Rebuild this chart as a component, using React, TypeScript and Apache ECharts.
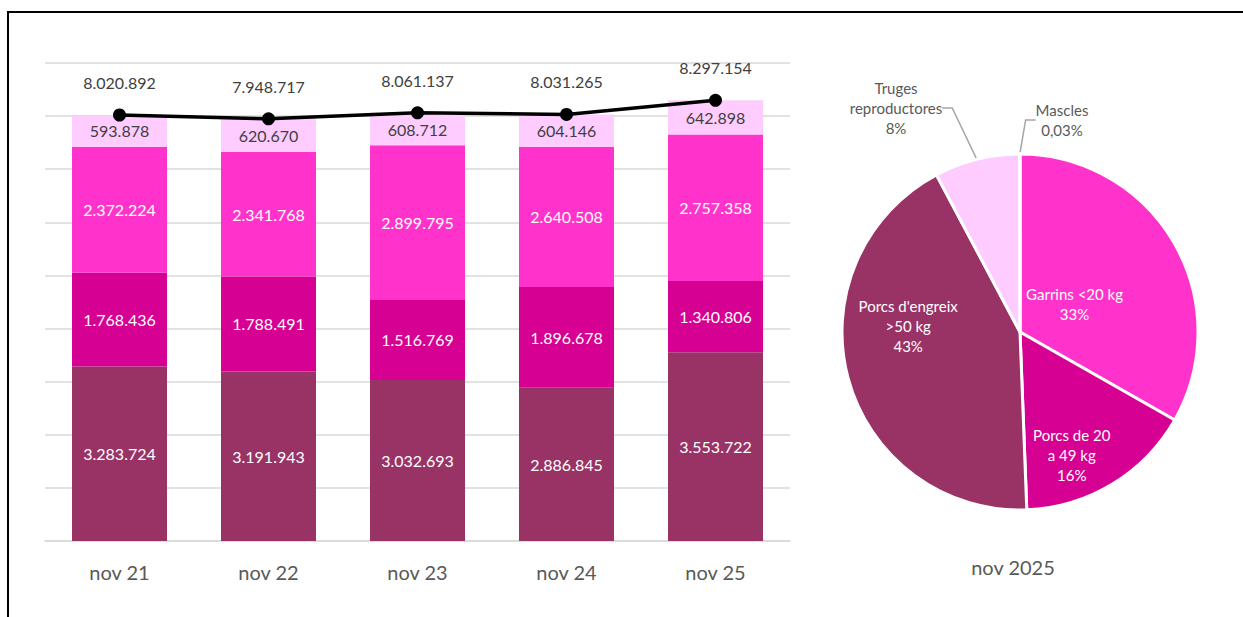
import React, { useEffect, useRef } from "react";
import * as echarts from "echarts";

const categories = ["nov 21", "nov 22", "nov 23", "nov 24", "nov 25"];
const porcsEngreix = [3283724, 3191943, 3032693, 2886845, 3553722];
const porcs20a49 = [1768436, 1788491, 1516769, 1896678, 1340806];
const garrins = [2372224, 2341768, 2899795, 2640508, 2757358];
const truges = [593878, 620670, 608712, 604146, 642898];
const mascles = [2630, 5845, 3168, 3088, 2370];
const totals = [8020892, 7948717, 8061137, 8031265, 8297154];

const pieNames = ["Garrins <20 kg", "Porcs de 20 a 49 kg", "Porcs d'engreix >50 kg", "Truges reproductores", "Mascles"];
const pieLabelNames = ["Garrins <20 kg", "Porcs de 20\na 49 kg", "Porcs d'engreix\n>50 kg", "Truges\nreproductores", "Mascles"];
const pieValues = [2757358, 1340806, 3553722, 642898, 2370];
const pieTitle = "nov 2025";

const C_ENG = "#993366";
const C_20 = "#D60093";
const C_GAR = "#FF33CC";
const C_TRU = "#FFCCFF";
const C_MAS = "#F6C4CF";
const FONT = "Lato, 'Open Sans', sans-serif";

const fmt = (n: number) => String(n).replace(/\B(?=(\d{3})+(?!\d))/g, ".");

export default function App() {
  const ref = useRef<HTMLDivElement>(null);
  useEffect(() => {
    const chart = echarts.init(ref.current!, null, { renderer: "svg" });
    const barLabel = (color: string) => ({
      show: true,
      position: "inside" as const,
      color,
      fontSize: 16,
      fontFamily: FONT,
      formatter: (p: any) => fmt(p.value),
    });
    const pieColors = [C_GAR, C_20, C_ENG, C_TRU, C_MAS];
    const insideShift: Record<number, [number, number]> = {
      0: [-25, 18],
      1: [4, 44],
      2: [-23, -30],
    };
    // label anchors for the outside pie labels, relative to the pie centre
    const outsideOffset: Record<number, [number, number]> = {
      3: [-124, -224],
      4: [42, -212],
    };
    const pieCenter = [1020, 332];
    chart.setOption({
      animation: false,
      textStyle: { fontFamily: FONT },
      grid: { left: 45, right: 453, top: 63, bottom: 76 },
      xAxis: {
        type: "category",
        data: categories,
        axisLine: { lineStyle: { color: "#D9D9D9", width: 1.5 } },
        axisTick: { show: false },
        axisLabel: { fontSize: 20, color: "#595959", margin: 21, fontFamily: FONT },
      },
      yAxis: {
        type: "value",
        min: 0,
        max: 9000000,
        interval: 1000000,
        axisLabel: { show: false },
        axisLine: { show: false },
        axisTick: { show: false },
        splitLine: { lineStyle: { color: "#D9D9D9", width: 1.5 } },
      },
      series: [
        { type: "bar", stack: "t", barWidth: 95, data: porcsEngreix, itemStyle: { color: C_ENG }, label: barLabel("#FFFFFF") },
        { type: "bar", stack: "t", data: porcs20a49, itemStyle: { color: C_20 }, label: barLabel("#FFFFFF") },
        { type: "bar", stack: "t", data: garrins, itemStyle: { color: C_GAR }, label: barLabel("#FFFFFF") },
        { type: "bar", stack: "t", data: truges, itemStyle: { color: C_TRU }, label: barLabel("#404040") },
        { type: "bar", stack: "t", data: mascles, itemStyle: { color: C_MAS } },
        {
          type: "line",
          data: totals,
          z: 10,
          symbol: "circle",
          symbolSize: 13,
          lineStyle: { color: "#000000", width: 3.5 },
          itemStyle: { color: "#000000" },
          label: {
            show: true,
            position: "top",
            distance: 18,
            fontSize: 16,
            color: "#404040",
            fontFamily: FONT,
            formatter: (p: any) => fmt(p.value),
          },
        },
        {
          type: "pie",
          center: pieCenter,
          radius: 178,
          startAngle: 90,
          clockwise: true,
          avoidLabelOverlap: false,
          itemStyle: { borderColor: "#FFFFFF", borderWidth: 3 },
          data: pieNames.map((name, i) => {
            const inside = i < 3;
            return {
              name,
              value: pieValues[i],
              itemStyle: { color: pieColors[i] },
              label: {
                show: true,
                position: inside ? "inside" : "outside",
                color: inside ? "#FFFFFF" : "#595959",
                fontSize: 15,
                lineHeight: 20,
                fontFamily: FONT,
                align: "center",
              },
              labelLine: { show: !inside, length: 20, length2: 10, lineStyle: { color: "#A6A6A6", width: 1.5 } },
            };
          }),
          label: {
            formatter: (p: any) => {
              const pct = p.percent < 1 ? p.percent.toFixed(2).replace(".", ",") : String(Math.round(p.percent));
              return pieLabelNames[p.dataIndex] + "\n" + pct + "%";
            },
          },
          labelLayout: (p: any) => {
            if (p.seriesIndex !== 6) return {};
            const s = insideShift[p.dataIndex];
            if (s) return { dx: s[0], dy: s[1] };
            const o = outsideOffset[p.dataIndex];
            if (o) {
              return {
                x: pieCenter[0] + o[0],
                y: pieCenter[1] + o[1],
                align: "center",
                verticalAlign: "middle",
              };
            }
            return {};
          },
        },
      ],
      graphic: [
        {
          type: "text",
          x: 1013,
          y: 567,
          style: { text: pieTitle, fontSize: 20, fill: "#595959", align: "center", verticalAlign: "middle", fontFamily: FONT },
        },
      ],
    });
    return () => chart.dispose();
  }, []);
  return (
    <div style={{ position: "fixed", left: 0, top: 0, width: 1243, height: 617, background: "#FFFFFF", overflow: "hidden" }}>
      <div style={{ position: "absolute", left: 7, top: 11, width: 1260, height: 700, border: "2px solid #000000", boxSizing: "border-box" }} />
      <div ref={ref} style={{ position: "absolute", left: 0, top: 0, width: 1243, height: 617 }} />
    </div>
  );
}
